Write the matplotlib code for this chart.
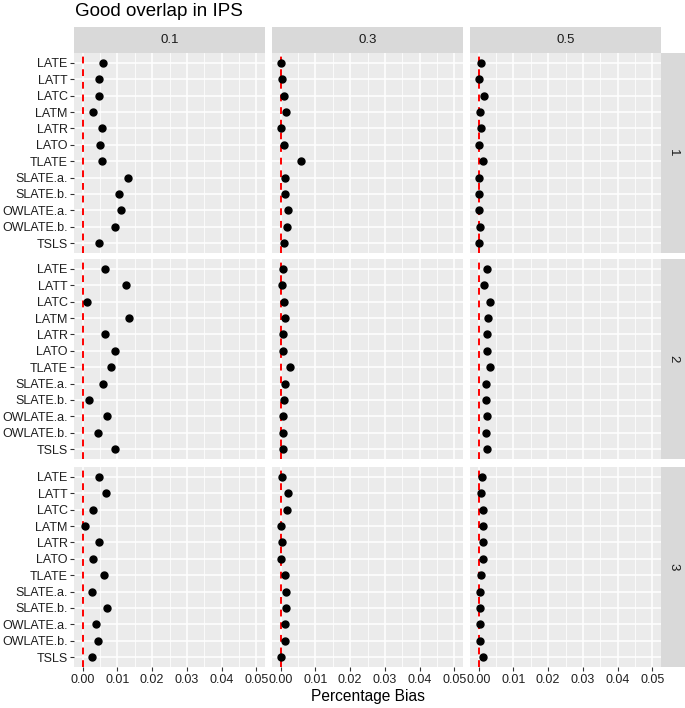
import matplotlib
matplotlib.use("Agg")
import matplotlib.pyplot as plt
from matplotlib.ticker import MultipleLocator, FormatStrFormatter

plt.rcParams['font.family'] = ['Liberation Sans', 'DejaVu Sans']

estimators = ['LATE', 'LATT', 'LATC', 'LATM', 'LATR', 'LATO', 'TLATE',
              'SLATE.a.', 'SLATE.b.', 'OWLATE.a.', 'OWLATE.b.', 'TSLS']
col_labels = ['0.1', '0.3', '0.5']
row_labels = ['1', '2', '3']
x_ticks = [0.0, 0.01, 0.02, 0.03, 0.04, 0.05]

# percentage bias, one list per (row, column) facet
bias_1_01 = [0.0058, 0.0048, 0.0047, 0.0030, 0.0056, 0.0049, 0.0055, 0.0130, 0.0105, 0.0111, 0.0092, 0.0048]
bias_1_03 = [0.0001, 0.0003, 0.0009, 0.0014, 0.0001, 0.0009, 0.0059, 0.0013, 0.0012, 0.0021, 0.0019, 0.0009]
bias_1_05 = [0.0007, 0.0000, 0.0015, 0.0005, 0.0006, 0.0000, 0.0013, 0.0002, 0.0001, 0.0002, 0.0003, 0.0000]
bias_2_01 = [0.0063, 0.0124, 0.0013, 0.0134, 0.0065, 0.0093, 0.0081, 0.0058, 0.0018, 0.0069, 0.0043, 0.0092]
bias_2_03 = [0.0007, 0.0005, 0.0009, 0.0011, 0.0007, 0.0008, 0.0027, 0.0011, 0.0010, 0.0008, 0.0008, 0.0008]
bias_2_05 = [0.0023, 0.0014, 0.0032, 0.0027, 0.0023, 0.0024, 0.0033, 0.0020, 0.0020, 0.0023, 0.0022, 0.0024]
bias_3_01 = [0.0046, 0.0067, 0.0030, 0.0007, 0.0048, 0.0029, 0.0060, 0.0027, 0.0070, 0.0038, 0.0043, 0.0028]
bias_3_03 = [0.0003, 0.0020, 0.0018, 0.0000, 0.0003, 0.0001, 0.0012, 0.0015, 0.0015, 0.0013, 0.0013, 0.0001]
bias_3_05 = [0.0010, 0.0007, 0.0013, 0.0011, 0.0011, 0.0012, 0.0007, 0.0005, 0.0003, 0.0004, 0.0003, 0.0012]

facets = [[bias_1_01, bias_1_03, bias_1_05],
          [bias_2_01, bias_2_03, bias_2_05],
          [bias_3_01, bias_3_03, bias_3_05]]

W, H = 685, 708
fig = plt.figure(figsize=(W / 100, H / 100), dpi=100)

col_x = [74, 272, 470]
col_w = 191
row_y = [53, 259, 467]
row_h = 200

def px_axes(x, y, w, h):
    return fig.add_axes([x / W, 1 - (y + h) / H, w / W, h / H])

ypos = list(range(len(estimators), 0, -1))
txt_col = '#1f1f1f'

for r in range(3):
    for c in range(3):
        ax = px_axes(col_x[c], row_y[r], col_w, row_h)
        ax.set_facecolor('#EBEBEB')
        ax.set_xlim(-0.0025, 0.0525)
        ax.set_ylim(0.4, len(estimators) + 0.6)
        ax.set_xticks(x_ticks)
        ax.xaxis.set_minor_locator(MultipleLocator(0.005))
        ax.xaxis.set_major_formatter(FormatStrFormatter('%.2f'))
        ax.grid(True, which='major', color='white', linewidth=1.1)
        ax.grid(True, which='minor', axis='x', color='white', linewidth=0.55)
        ax.set_axisbelow(True)
        for s in ax.spines.values():
            s.set_visible(False)
        ax.axvline(0, color='red', linestyle=(0, (3.5, 3)), linewidth=1.4, zorder=2)
        ax.plot(facets[r][c], ypos, 'o', color='black', markersize=5, zorder=3)
        ax.set_yticks(ypos)
        ax.tick_params(which='minor', length=0)
        ax.tick_params(which='major', length=3, color='#333333', width=0.8,
                       labelsize=9, labelcolor=txt_col, pad=2)
        ax.tick_params(axis='y', pad=1.5)
        if c == 0:
            ax.set_yticklabels(estimators)
        else:
            ax.tick_params(axis='y', length=0, labelleft=False)
        if r != 2:
            ax.tick_params(axis='x', length=0, labelbottom=False)

# top strips
for c in range(3):
    sax = px_axes(col_x[c], 27, col_w, 26)
    sax.set_facecolor('#D9D9D9')
    sax.set_xticks([])
    sax.set_yticks([])
    for s in sax.spines.values():
        s.set_visible(False)
    sax.text(0.5, 0.5, col_labels[c], ha='center', va='center',
             fontsize=9.5, color='#1A1A1A', transform=sax.transAxes)

# right strips
for r in range(3):
    sax = px_axes(661, row_y[r], 24, row_h)
    sax.set_facecolor('#D9D9D9')
    sax.set_xticks([])
    sax.set_yticks([])
    for s in sax.spines.values():
        s.set_visible(False)
    sax.text(0.5, 0.5, row_labels[r], ha='center', va='center', rotation=-90,
             fontsize=9.5, color='#1A1A1A', transform=sax.transAxes)

fig.text(75 / W, 1 - 11 / H, 'Good overlap in IPS', ha='left', va='center',
         fontsize=13.5, color='black')
fig.text((74 + 661) / 2 / W, 1 - 697 / H, 'Percentage Bias', ha='center',
         va='center', fontsize=11.2, color='black')

fig.savefig('out.png', dpi=100)
